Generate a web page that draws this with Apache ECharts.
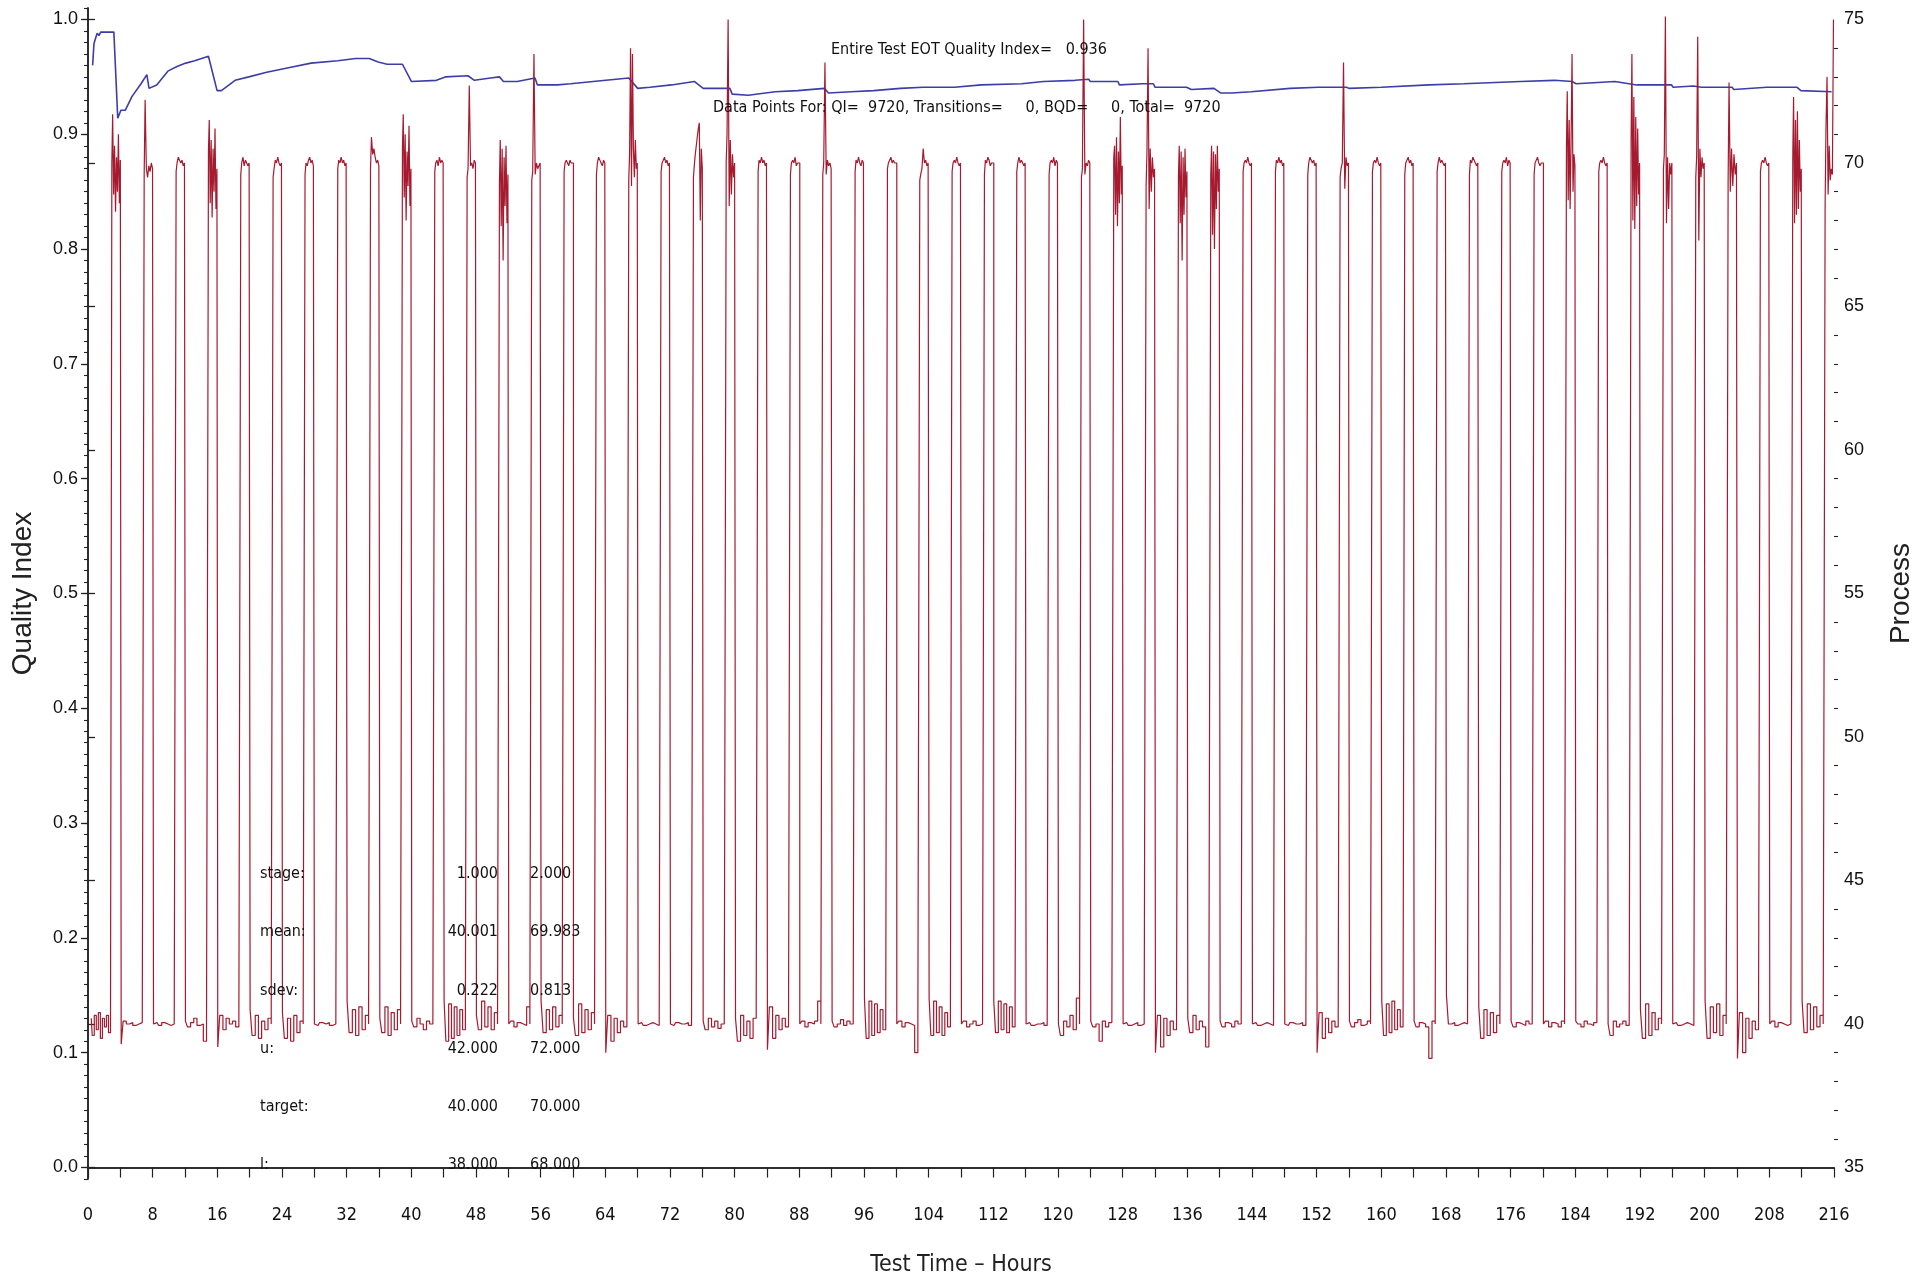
<!DOCTYPE html>
<html><head><meta charset="utf-8">
<script src="https://cdn.jsdelivr.net/npm/echarts@6/dist/echarts.min.js"></script>
<style>html,body{margin:0;padding:0;background:#fff}#c{width:1927px;height:1282px}</style>
</head><body><div id="c"></div><script>
// ---------- tick labels ----------
const xTickLabels = [0,8,16,24,32,40,48,56,64,72,80,88,96,104,112,120,128,136,144,152,160,168,176,184,192,200,208,216];
const qiTickLabels = [0.0,0.1,0.2,0.3,0.4,0.5,0.6,0.7,0.8,0.9,1.0];
const processTickLabels = [35,40,45,50,55,60,65,70,75];

// ---------- Quality Index (blue) ----------
const qiHours = [0.57,0.74,1.13,1.35,1.57,3.2,3.68,4.07,4.62,5.45,
  6.56,7.28,7.55,8.5,9.88,11.0,12.1,13.2,14.9,15.1,
  15.97,16.5,18.2,19.9,22.1,24.8,27.6,30.9,33.1,34.8,
  35.9,37.0,38.9,40.0,43.1,44.2,47.0,47.8,49.8,50.9,
  51.4,53.1,55.3,55.6,58.1,59.7,62.5,66.9,68.0,69.5,
  72.2,75.0,76.1,79.4,79.7,81.7,85.0,87.8,91.1,91.6,
  94.4,97.2,100.5,103.3,107.2,110.5,115.5,118.2,122.1,123.8,
  124.0,127.4,127.6,130.4,131.8,132.0,135.9,136.5,139.3,140.1,
  141.5,143.9,148.7,152.2,155.7,156.0,160.0,165.9,170.2,177.2,
  181.4,183.6,184.1,188.9,191.6,195.9,196.1,198.6,199.6,203.4,
  203.6,207.7,211.4,211.9,215.7];
const qiValues = [0.960,0.979,0.988,0.986,0.989,0.989,0.914,0.921,0.921,0.933,
  0.944,0.952,0.940,0.943,0.955,0.959,0.962,0.964,0.968,0.968,
  0.938,0.938,0.947,0.950,0.954,0.958,0.962,0.964,0.966,0.966,
  0.963,0.961,0.961,0.946,0.947,0.950,0.951,0.947,0.949,0.950,
  0.946,0.946,0.949,0.943,0.943,0.944,0.946,0.949,0.940,0.941,
  0.943,0.946,0.940,0.940,0.935,0.934,0.937,0.938,0.940,0.936,
  0.937,0.938,0.940,0.941,0.941,0.943,0.944,0.946,0.947,0.948,
  0.946,0.946,0.943,0.944,0.944,0.941,0.941,0.939,0.940,0.936,
  0.936,0.937,0.940,0.941,0.941,0.940,0.941,0.943,0.944,0.946,
  0.947,0.946,0.944,0.946,0.943,0.943,0.941,0.942,0.941,0.941,
  0.939,0.941,0.941,0.938,0.937];

// ---------- Process (red) ----------
const processStart = 0.4;
const riseHours = [2.95,6.95,10.9,14.9,18.9,22.9,26.85,30.9,34.95,38.9,
  42.9,46.9,50.9,54.9,58.9,62.9,66.9,70.9,74.9,78.95,
  82.9,86.9,90.9,94.9,98.9,102.9,106.9,110.9,114.9,118.9,
  122.9,126.9,130.9,134.9,138.9,142.9,146.9,150.9,154.9,158.9,
  162.9,166.9,170.9,174.9,178.9,182.9,186.9,190.9,194.9,198.9,
  202.9,206.9,210.9,214.9];
const fallHours = [4.1,8.1,12.05,16.05,20.05,24.05,28.0,32.05,36.1,40.05,
  44.05,48.05,52.05,56.05,60.05,64.05,68.05,72.05,76.1,80.1,
  84.05,88.05,92.05,96.05,100.05,104.05,108.05,112.05,116.05,120.05,
  124.05,128.05,132.05,136.05,140.05,144.05,148.05,152.05,156.05,160.05,
  164.05,168.05,172.05,176.05,180.05,184.05,188.05,192.05,196.05,200.05,
  204.05,208.05,212.05];
// low-stage readings before each rise
const lowValues = [
  [40.2,39.6,40.3,39.8,40.4,39.5,40.2,39.9,40.3,39.7,40.1],
  [39.3,40.1,40.0,40.05,39.95,40.0,40.05,40.0],
  [40.0,40.05,39.95,40.05,40.0,39.95,40.0,40.05],
  [40.1,39.9,40.05,40.2,39.95,40.0,39.4,40.05],
  [39.2,40.3,39.8,40.2,40.0,40.1,39.9,40.0],
  [40.5,39.6,40.3,39.5,40.1,39.8,40.2,40.0],
  [40.4,39.5,40.2,39.4,40.3,39.7,40.1,40.0],
  [40.0,39.95,40.05,40.0,40.05,39.95,40.0,40.0],
  [40.8,39.7,40.5,39.6,40.6,39.8,40.3,40.0],
  [40.2,39.7,40.6,39.6,40.4,39.8,40.5,40.0],
  [40.1,39.9,40.2,40.0,39.8,40.1,40.0,40.05],
  [40.8,39.4,40.7,39.5,40.6,39.6,40.5,39.8,40.3],
  [40.3,39.8,40.8,39.9,40.6,39.8,40.4,40.0],
  [40.0,40.1,39.9,40.05,40.0,39.95,40.6,40.0],
  [40.8,39.7,40.5,39.8,40.6,39.9,40.3,40.0],
  [40.2,39.6,40.7,39.7,40.5,39.8,40.4,40.0],
  [39.0,40.3,39.4,40.2,39.7,40.1,39.9,40.0],
  [40.0,40.05,39.95,40.0,40.05,40.0,39.95,40.0],
  [40.0,39.95,40.05,40.0,40.0,40.05,39.95,40.0],
  [40.1,39.8,40.2,39.9,40.1,39.85,40.0,40.05],
  [40.2,39.4,40.3,39.6,40.1,39.5,40.2,41.0],
  [39.1,40.6,39.5,40.3,39.8,40.2,39.9,40.0],
  [40.0,40.1,39.9,40.05,40.0,40.1,40.8,40.0],
  [40.1,39.9,40.0,40.15,39.95,40.1,40.0,40.0],
  [40.9,39.5,40.8,39.6,40.7,39.7,40.5,39.8,40.2],
  [40.0,40.1,39.9,40.05,40.0,39.95,39.0,40.0],
  [40.9,39.6,40.8,39.7,40.6,39.6,40.4,39.9,40.1],
  [40.0,40.1,39.9,40.0,40.1,39.95,40.0,40.05],
  [40.8,39.7,40.8,39.8,40.7,39.7,40.6,39.9,40.0],
  [40.0,40.05,39.95,40.0,40.0,40.05,39.95,40.0],
  [40.0,39.6,40.1,39.9,40.3,39.8,40.9,40.0],
  [40.1,39.9,40.0,39.4,40.1,39.9,40.05,40.0],
  [40.0,40.05,39.95,40.0,40.05,39.95,40.0,40.0],
  [39.0,40.3,39.2,40.2,39.6,40.1,39.8,40.0],
  [40.2,39.7,40.3,39.8,40.1,39.9,39.2,40.0],
  [40.1,39.9,40.05,40.0,39.9,40.1,40.0,40.0],
  [40.0,40.05,39.95,40.0,40.05,40.0,39.95,40.0],
  [40.0,39.95,40.05,40.0,40.0,40.05,39.95,40.0],
  [39.0,40.4,39.5,40.2,39.7,40.1,39.9,40.0],
  [40.1,39.9,40.05,40.15,39.95,40.0,40.1,40.0],
  [40.8,39.6,40.7,39.7,40.8,39.8,40.5,39.9,40.1],
  [40.1,39.9,40.05,40.0,39.9,38.8,40.1,40.0],
  [41.0,40.0,40.05,39.95,40.0,40.05,40.0,40.0],
  [40.6,39.5,40.5,39.6,40.4,39.7,40.3,40.0],
  [40.1,39.9,40.05,40.0,39.95,40.1,40.0,40.0],
  [40.0,40.1,39.9,40.05,40.0,39.9,40.1,40.0],
  [40.1,40.0,39.9,40.1,40.0,39.95,40.05,40.0],
  [40.0,39.6,40.1,39.9,40.0,40.1,39.95,40.0],
  [40.5,39.5,40.7,39.6,40.4,39.8,40.2,40.0],
  [40.0,40.05,39.95,40.0,40.05,40.0,39.95,40.0],
  [40.8,39.5,40.6,39.7,40.7,39.6,40.3,40.0],
  [38.8,40.4,39.0,40.2,39.5,40.1,39.8,40.0],
  [40.0,40.1,39.9,40.05,40.0,39.95,40.0,40.0],
  [40.8,39.7,40.7,39.8,40.6,39.9,40.3,40.0]
];
// high-stage readings between each rise and fall
const topValues = [
  [70.0,71.7,68.9,70.6,68.3,70.2,69.0,71.0,68.6,70.1],
  [69.6,72.2,69.8,69.5,69.9,69.7,70.0,69.8],
  [69.7,70.0,70.2,70.1,70.0,70.1,69.9,70.0],
  [70.4,71.5,68.6,70.8,68.1,70.5,69.0,71.2,68.4,69.8],
  [69.6,70.0,70.2,69.9,70.1,70.0,69.9,70.0],
  [69.5,69.8,70.1,70.0,70.2,70.0,69.9,70.0],
  [69.6,70.0,69.9,70.1,70.2,70.0,70.1,69.9],
  [69.8,70.1,70.0,70.2,70.0,70.1,69.9,70.0],
  [69.8,70.9,70.3,70.5,70.2,70.0,70.1,69.9],
  [70.5,71.7,68.8,71.0,68.0,70.4,69.2,71.3,68.5,69.8],
  [69.7,70.0,70.1,69.9,70.2,70.0,70.1,70.0],
  [69.5,69.8,72.7,69.9,70.0,69.8,70.1,70.0],
  [69.3,70.8,67.8,70.5,66.6,70.2,68.5,70.6,67.9,69.6],
  [69.4,69.7,73.8,69.6,70.0,69.8,69.9,70.0],
  [69.7,70.0,70.1,70.0,69.9,70.1,70.0,70.0],
  [69.6,70.0,70.2,70.1,70.0,69.9,70.1,70.0],
  [69.4,70.3,74.0,69.2,73.8,70.5,69.5,70.8,69.8,70.0],
  [69.7,70.0,70.1,70.2,70.0,70.1,69.9,70.0],
  [69.5,69.9,70.3,70.6,70.9,71.2,71.4,68.0,70.5,69.8],
  [70.0,71.0,75.0,68.5,70.8,68.9,70.3,69.5,70.0],
  [69.7,70.1,70.0,70.2,70.0,70.1,69.9,70.0],
  [69.6,70.0,70.1,70.0,70.2,69.9,70.0,70.0],
  [69.6,70.0,73.5,69.6,70.1,69.9,70.0,69.8],
  [69.7,70.1,70.0,70.2,70.0,69.9,70.1,70.0],
  [69.8,70.0,70.1,70.2,70.0,70.1,70.0,70.0],
  [69.4,69.6,69.8,70.5,70.0,70.1,69.9,70.0],
  [69.7,70.0,70.1,70.0,70.2,70.0,69.9,70.0],
  [69.6,70.1,70.0,70.2,70.1,69.9,70.0,70.0],
  [69.7,70.0,70.2,70.0,70.1,70.0,69.9,70.0],
  [69.6,70.0,70.1,70.0,70.2,69.9,70.1,70.0],
  [69.5,69.8,75.0,69.6,70.0,69.9,70.1,70.0],
  [70.2,70.6,68.2,70.9,67.8,70.4,68.6,71.6,68.9,69.9],
  [69.2,70.4,74.0,68.4,70.5,69.0,70.2,69.5,69.8],
  [69.5,70.6,67.9,70.4,66.6,70.2,68.2,70.5,68.8,69.7],
  [69.6,70.6,67.5,70.4,67.0,70.3,68.4,70.6,69.0,69.8],
  [69.7,70.0,70.1,70.0,70.2,70.0,69.9,70.0],
  [69.7,70.1,70.0,70.2,70.0,70.1,69.9,70.0],
  [69.6,70.0,70.2,70.1,70.0,70.1,69.9,70.0],
  [69.5,69.8,70.0,73.5,69.1,70.2,69.9,70.0],
  [69.7,70.0,70.1,70.0,70.2,70.0,69.9,70.0],
  [69.6,70.0,70.1,70.2,70.0,70.1,69.9,70.0],
  [69.7,70.0,70.2,70.0,70.1,70.0,69.9,70.0],
  [69.6,70.1,70.0,70.2,70.1,70.0,69.9,70.0],
  [69.7,70.0,70.1,70.0,70.2,69.9,70.1,70.0],
  [69.6,70.0,70.1,70.2,70.0,69.9,70.0,70.0],
  [70.5,72.5,68.7,71.5,68.4,70.8,73.8,69.0,70.3,69.9],
  [69.7,70.0,70.1,70.0,70.2,70.0,69.9,70.0],
  [70.8,73.8,68.0,72.3,67.7,71.6,68.5,71.2,68.9,70.0],
  [69.8,70.3,75.1,67.9,70.2,68.4,70.0,69.6,70.0],
  [69.5,70.2,74.4,67.3,70.5,69.5,70.2,69.8,70.0],
  [69.3,72.8,69.0,70.5,69.2,70.3,69.6,70.0],
  [69.7,70.0,70.1,70.0,70.2,70.0,69.9,70.0],
  [70.2,72.3,67.9,71.5,68.2,71.8,68.4,70.8,69.0,69.8],
  [68.5,71.2,73.0,68.9,70.6,69.4,69.8,69.6,75.0]
];

// ---------- annotation texts ----------
const headerLine1 = 'Entire Test EOT Quality Index=   0.936';
const headerLine2 = 'Data Points For: QI=  9720, Transitions=     0, BQD=     0, Total=  9720';
const statLabels = ['stage:','mean:','sdev:','u:','target:','l:'];
const statStage1 = ['1.000','40.001','0.222','42.000','40.000','38.000'];
const statStage2 = ['2.000','69.983','0.813','72.000','70.000','68.000'];

// ---------- build series data ----------
const qiData = qiHours.map((h, i) => [h, qiValues[i]]);
const processData = [];
for (let k = 0; k < riseHours.length; k++) {
  const s = k === 0 ? processStart : fallHours[k - 1] + 0.05;
  const e = riseHours[k] - 0.04;
  const low = lowValues[k];
  low.forEach((v, i) => processData.push([s + (e - s) * i / (low.length - 1), v]));
  const ts = riseHours[k] + 0.04;
  const te = k < fallHours.length ? fallHours[k] - 0.04 : 216;
  const top = topValues[k];
  top.forEach((v, i) => processData.push([ts + (te - ts) * i / (top.length - 1), v]));
}

const NARROW = "'Liberation Sans Narrow','DejaVu Sans Condensed','Arial Narrow',sans-serif";
const SANS = "'Liberation Sans',Arial,sans-serif";
const qiMin = -0.01, qiMax = 1.01;
const prMin = 35 + qiMin * 40, prMax = 35 + qiMax * 40;
const prMinor = [];
for (let v = 35; v <= 75; v++) if (v % 5) prMinor.push(v);

const axisLineStyle = { color: '#222', width: 1.5 };
const TXT = '16px ' + NARROW;

const graphics = [
  { type: 'text', x: 831, y: 50, z: 100, style: { text: headerLine1, font: TXT, fill: '#111', verticalAlign: 'middle' } },
  { type: 'text', x: 713, y: 108, z: 100, style: { text: headerLine2, font: TXT, fill: '#111', verticalAlign: 'middle' } }
];
statLabels.forEach((lab, i) => {
  const y = 874 + i * 58.2;
  graphics.push({ type: 'text', x: 260, y, z: 100, style: { text: lab, font: TXT, fill: '#111', verticalAlign: 'middle' } });
  graphics.push({ type: 'text', x: 498, y, z: 100, style: { text: statStage1[i], font: TXT, fill: '#111', verticalAlign: 'middle', align: 'right' } });
  graphics.push({ type: 'text', x: 530, y, z: 100, style: { text: statStage2[i], font: TXT, fill: '#111', verticalAlign: 'middle', align: 'left' } });
});

const chart = echarts.init(document.getElementById('c'), null, { renderer: 'canvas' });
chart.setOption({
  animation: false,
  backgroundColor: '#fff',
  grid: { left: 88, right: 93, top: 8, bottom: 99, containLabel: false },
  xAxis: [
    {
      type: 'value', min: 0, max: 216, interval: 4, position: 'bottom',
      axisLine: { show: true, lineStyle: axisLineStyle },
      axisTick: { show: true, length: 10, lineStyle: { color: '#222', width: 1.2 } },
      axisLabel: { margin: 27, fontSize: 18, fontFamily: NARROW, color: '#111',
        formatter: v => (xTickLabels.indexOf(v) >= 0 ? String(v) : '') },
      splitLine: { show: false },
      name: 'Test Time – Hours', nameLocation: 'middle', nameGap: 75,
      nameTextStyle: { fontSize: 23, fontFamily: NARROW, color: '#222' }
    },
    {
      type: 'value', min: 0, max: 216, position: 'top',
      axisLine: { show: true, lineStyle: axisLineStyle },
      axisTick: { show: false }, axisLabel: { show: false }, splitLine: { show: false }
    }
  ],
  yAxis: [
    {
      type: 'value', min: qiMin, max: qiMax, position: 'left',
      axisLine: { show: true, lineStyle: axisLineStyle },
      axisTick: { show: true, length: 7, customValues: qiTickLabels, lineStyle: { color: '#222', width: 1.3 } },
      axisLabel: { margin: 10, fontSize: 18, fontFamily: SANS, color: '#111', customValues: qiTickLabels,
        formatter: v => v.toFixed(1) },
      splitLine: { show: false },
      name: 'Quality Index', nameLocation: 'middle', nameGap: 51, nameRotate: 90,
      nameTextStyle: { fontSize: 28, fontFamily: SANS, color: '#222' }
    },
    {
      type: 'value', min: prMin, max: prMax, position: 'right',
      axisLine: { show: true, lineStyle: axisLineStyle },
      axisTick: { show: true, length: 7, customValues: processTickLabels, lineStyle: { color: '#222', width: 1.3 } },
      axisLabel: { margin: 10, fontSize: 18, fontFamily: SANS, color: '#111', customValues: processTickLabels,
        formatter: v => String(Math.round(v)) },
      splitLine: { show: false },
      name: 'Process', nameLocation: 'middle', nameGap: 53, nameRotate: 90,
      nameTextStyle: { fontSize: 28, fontFamily: SANS, color: '#222' }
    },
    {
      // minor ticks every 0.01 (min is a multiple of the interval)
      type: 'value', min: qiMin, max: qiMax, interval: 0.01, position: 'left',
      axisLine: { show: false },
      axisTick: { show: true, length: 4, lineStyle: { color: '#222', width: 1.1 } },
      axisLabel: { show: false }, splitLine: { show: false }
    },
    {
      // minor ticks every process unit
      type: 'value', min: prMin, max: prMax, position: 'right',
      axisLine: { show: false },
      axisTick: { show: true, length: 4, customValues: prMinor, lineStyle: { color: '#222', width: 1.1 } },
      axisLabel: { show: false }, splitLine: { show: false }
    }
  ],
  series: [
    { type: 'line', name: 'Quality Index', xAxisIndex: 0, yAxisIndex: 0, data: qiData,
      showSymbol: false, symbol: 'none', sampling: null,
      lineStyle: { color: '#3d3da8', width: 1.6 }, z: 2 },
    { type: 'line', name: 'Process', xAxisIndex: 0, yAxisIndex: 1, data: processData,
      showSymbol: false, symbol: 'none', sampling: null, step: 'middle',
      lineStyle: { color: '#a51a2f', width: 1.2 }, z: 3 }
  ],
  graphic: graphics
});
</script></body></html>
